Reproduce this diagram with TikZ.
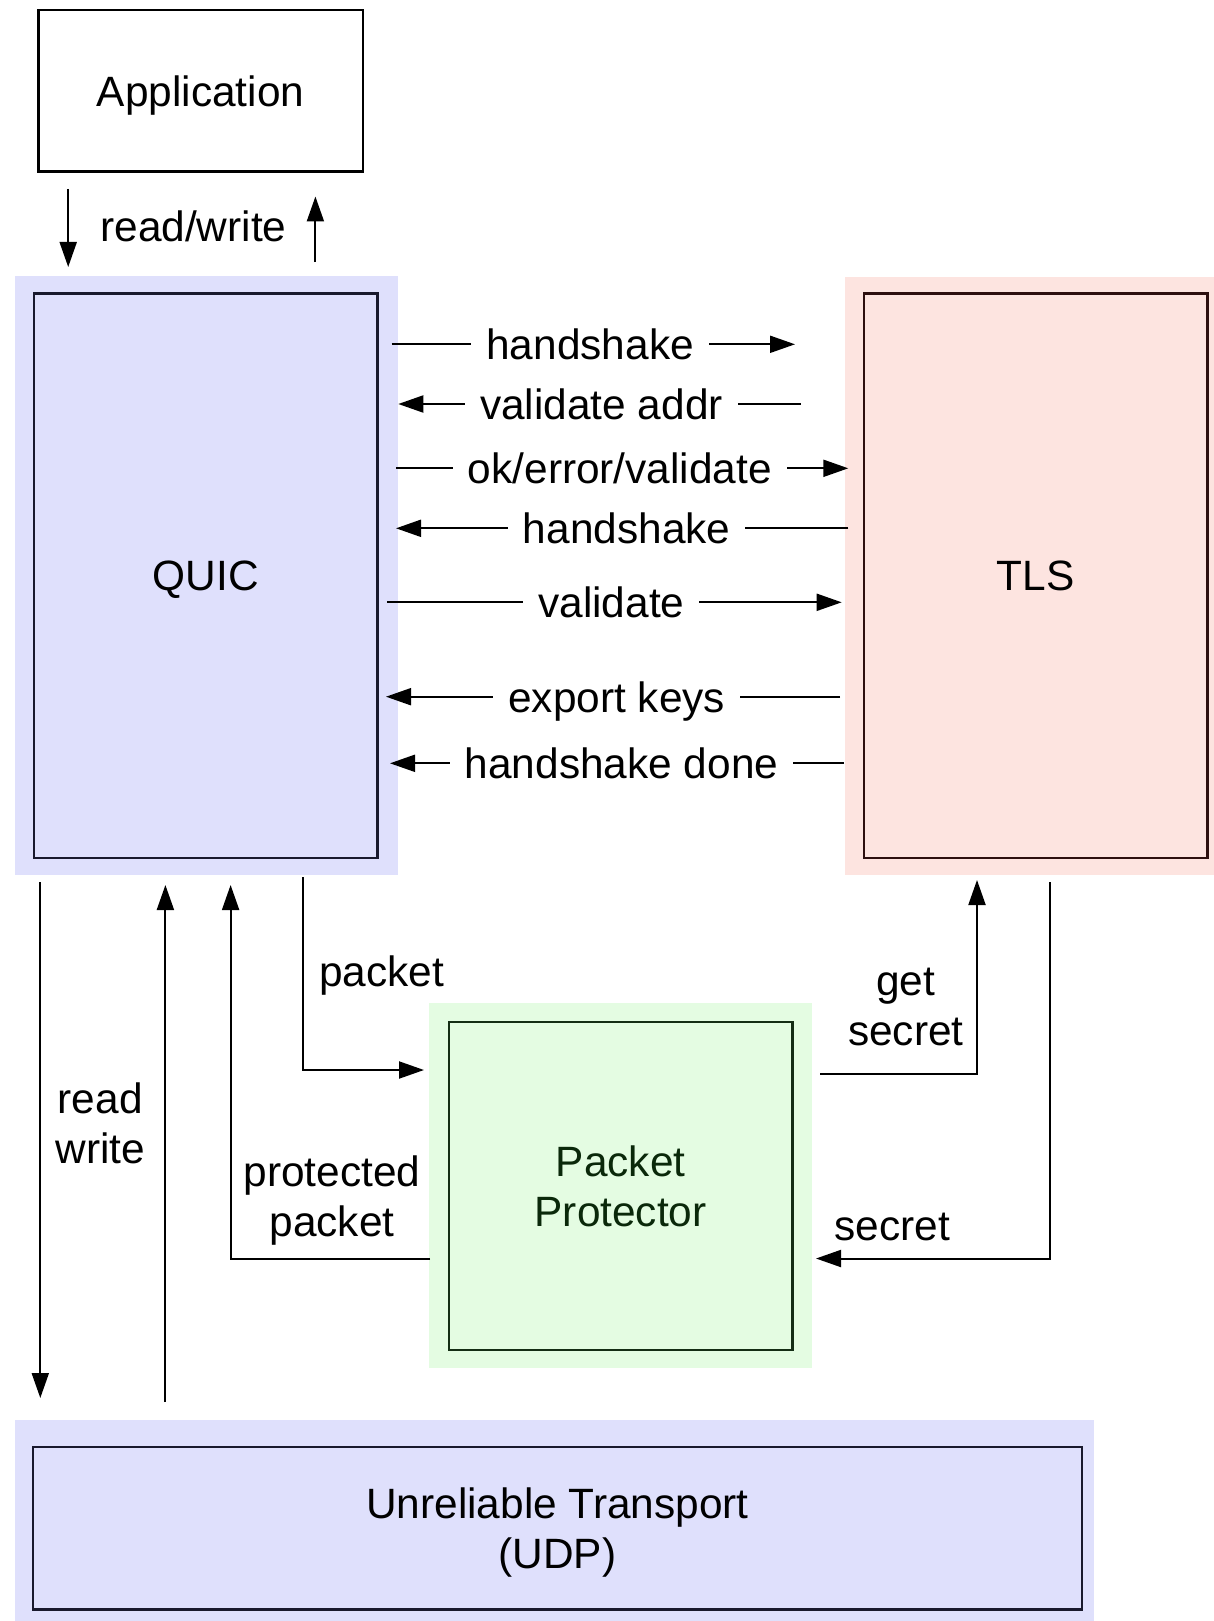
\documentclass[tikz,border=0pt]{standalone}
\usepackage{fontspec}
\setmainfont{Liberation Sans}
\usetikzlibrary{arrows.meta}
\definecolor{quicfill}{RGB}{223,224,252}
\definecolor{tlsfill}{RGB}{253,228,224}
\definecolor{ppfill}{RGB}{228,252,226}
\definecolor{quicline}{RGB}{25,25,45}
\definecolor{tlsline}{RGB}{45,15,15}
\definecolor{ppline}{RGB}{20,45,20}
\definecolor{pptext}{RGB}{10,40,10}
\begin{document}
\begin{tikzpicture}[x=0.5pt,y=-0.5pt,
  lbl/.style={font=\fontsize{21.2}{25}\selectfont, inner sep=0pt, align=center, text depth=0pt},
  msg/.style={lbl, fill=white, inner xsep=7.5pt, inner ysep=2pt},
  band/.style={draw=none, inner sep=0pt},
  box/.style={draw, line width=1.2pt, inner sep=0pt, align=center, text depth=0pt,
              font=\fontsize{21.2}{25}\selectfont},
  conn/.style={line width=1pt, -{Triangle[length=12.5pt,width=8.5pt]}},
]
\useasboundingbox (0,0) rectangle (1214,1621);

% ---- layers ----
\node[box, minimum width=162.35pt, minimum height=80.65pt] (app) at (200.65,90.95) {Application};

\node[band, fill=quicfill, minimum width=191.75pt, minimum height=299.5pt] (quicbg) at (206.25,575.5) {};
\node[box, draw=quicline, fill=quicfill, minimum width=171.7pt, minimum height=282.35pt] (quic) at (205.7,575.85) {QUIC};

\node[band, fill=tlsfill, minimum width=184.5pt, minimum height=299pt] (tlsbg) at (1029.5,576) {};
\node[box, draw=tlsline, fill=tlsfill, minimum width=171.65pt, minimum height=282.35pt] (tls) at (1035.65,575.85) {TLS};

\node[band, fill=ppfill, minimum width=191.65pt, minimum height=182.5pt] (ppbg) at (620.65,1185.8) {};
\node[box, draw=ppline, fill=ppfill, text=pptext, minimum width=171.65pt, minimum height=164.15pt] (pp) at (620.65,1185.85) {Packet\\Protector};

\node[band, fill=quicfill, minimum width=539.75pt, minimum height=105pt] (udpbg) at (554.25,1525) {};
\node[box, draw=quicline, fill=quicfill, minimum width=524.5pt, minimum height=81.15pt] (udp) at (557.5,1528.15) {Unreliable Transport\\(UDP)};

% ---- application <-> QUIC ----
\coordinate (rwdA) at (68.2,189);   \coordinate (rwdB) at (68.2,267);
\coordinate (rwuA) at (315.4,262);  \coordinate (rwuB) at (315.4,196.5);
\draw[conn] (rwdA) -- (rwdB);
\draw[conn] (rwuA) -- (rwuB);
\node[lbl] (rwlbl) at (193.4,226.4) {read/write};

% ---- QUIC <-> TLS messages ----
\coordinate (h1A) at (391.7,344.3); \coordinate (h1B) at (795,344.3);
\coordinate (vaA) at (800.7,404);   \coordinate (vaB) at (398.3,404);
\coordinate (oeA) at (396,468.3);   \coordinate (oeB) at (848.3,468.3);
\coordinate (h2A) at (848.3,528.3); \coordinate (h2B) at (396,528.3);
\coordinate (vdA) at (387.3,602.3); \coordinate (vdB) at (841.7,602.3);
\coordinate (ekA) at (840,696.7);   \coordinate (ekB) at (386,696.7);
\coordinate (hdA) at (844,763.3);   \coordinate (hdB) at (390,763.3);
\draw[conn] (h1A) -- node[msg, pos=0.492] (h1lbl) {handshake} (h1B);
\draw[conn] (vaA) -- node[msg, pos=0.495] (valbl) {validate addr} (vaB);
\draw[conn] (oeA) -- node[msg, pos=0.495] (oelbl) {ok/error/validate} (oeB);
\draw[conn] (h2A) -- node[msg, pos=0.49] (h2lbl) {handshake} (h2B);
\draw[conn] (vdA) -- node[msg, pos=0.493] (vdlbl) {validate} (vdB);
\draw[conn] (ekA) -- node[msg, pos=0.492] (eklbl) {export keys} (ekB);
\draw[conn] (hdA) -- node[msg, pos=0.49] (hdlbl) {handshake done} (hdB);

% ---- QUIC <-> UDP ----
\coordinate (rdA) at (40.3,882);   \coordinate (rdB) at (40.3,1398);
\coordinate (wrA) at (165.4,1402); \coordinate (wrB) at (165.4,885);
\draw[conn] (rdA) -- (rdB);
\draw[conn] (wrA) -- (wrB);
\node[lbl] (rdlbl) at (100.3,1123) {read\\write};

% ---- QUIC <-> packet protector ----
\coordinate (pkA) at (303,877);     \coordinate (pkB) at (424,1070);
\draw[conn] (pkA) |- (pkB);
\node[lbl] (pklbl) at (381.5,971) {packet};
\coordinate (prA) at (430,1258.5);  \coordinate (prB) at (230.6,885);
\draw[conn] (prA) -| (prB);
\node[lbl] (prlbl) at (332,1196) {protected\\packet};

% ---- packet protector <-> TLS ----
\coordinate (gsA) at (820,1074);    \coordinate (gsB) at (977,880);
\draw[conn] (gsA) -| (gsB);
\node[lbl] (gslbl) at (905.8,1007) {get\\secret};
\coordinate (scA) at (1049.5,882);  \coordinate (scB) at (816,1258.5);
\draw[conn] (scA) |- (scB);
\node[lbl] (sclbl) at (892.3,1226.3) {secret};
\end{tikzpicture}
\end{document}
